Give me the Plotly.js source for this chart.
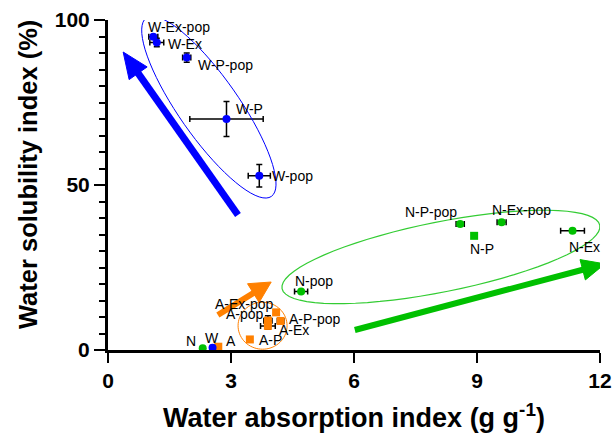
<!DOCTYPE html>
<html><head><meta charset="utf-8">
<script src="https://cdn.plot.ly/plotly-3.0.1.min.js"></script>
<style>html,body{margin:0;padding:0;background:#fff}#chart{width:615px;height:433px}</style>
</head><body><div id="chart"></div>
<script>
// ---- data ----
const wNames = ["W", "W-P", "W-Ex", "W-pop", "W-P-pop", "W-Ex-pop"];
const wWAI   = [2.55, 2.89, 1.19, 3.69, 1.92, 1.105];
const wWSI   = [0.7, 70.0, 93.2, 52.8, 88.6, 94.9];
const wWAIsd = [0.05, 0.895, 0.17, 0.27, 0.10, 0.11];
const wWSIsd = [0.3, 5.3, 1.3, 3.4, 1.4, 0.6];

const aNames = ["A", "A-P", "A-Ex", "A-pop", "A-P-pop", "A-Ex-pop"];
const aWAI   = [2.69, 3.46, 3.90, 3.90, 4.21, 4.10];
const aWSI   = [1.0, 3.2, 7.3, 8.9, 8.8, 11.4];
const aWAIsd = [0.03, 0.05, 0.18, 0.10, 0.08, 0.05];
const aWSIsd = [0.2, 0.3, 1.0, 1.5, 0.5, 0.5];

const nNames = ["N", "N-P", "N-Ex", "N-pop", "N-P-pop", "N-Ex-pop"];
const nWAI   = [2.31, 8.93, 11.33, 4.71, 8.59, 9.60];
const nWSI   = [0.5, 34.6, 36.1, 17.7, 38.2, 38.7];
const nWAIsd = [0.03, 0.05, 0.29, 0.16, 0.10, 0.11];
const nWSIsd = [0.2, 0.5, 0.5, 0.5, 0.6, 0.6];

const xTicks = [0, 3, 6, 9, 12];
const yTicks = [0, 50, 100];
const xTitle = "Water absorption index (g g<sup>-1</sup>)";
const yTitle = "Water solubility index (%)";

// ---- styling / layout helpers ----
const FONT = "Liberation Sans, Arial, sans-serif";
const BLUE = "#0000ff", ORANGE = "#ff8000", GREEN = "#00c000";
const KX = 41, KY = 3.3; // approx px per data unit (for decorative shapes)

function trace(names, x, y, ex, ey, color, symbols) {
  return {
    type: "scatter", mode: "markers", x: x, y: y, text: names,
    marker: {color: color, size: 8, symbol: symbols},
    error_x: {type: "data", array: ex, visible: true, color: "#000", thickness: 1.5, width: 3},
    error_y: {type: "data", array: ey, visible: true, color: "#000", thickness: 1.5, width: 3},
    showlegend: false, cliponaxis: false, hoverinfo: "text"
  };
}
const traces = [
  trace(aNames, aWAI, aWSI, aWAIsd, aWSIsd, ORANGE, "square"),
  trace(nNames, nWAI, nWSI, nWAIsd, nWSIsd, GREEN, ["circle","square","circle","circle","circle","circle"]),
  trace(wNames, wWAI, wWSI, wWAIsd, wWSIsd, BLUE, "circle")
];

const annotations = [];
// label placement: [xanchor, dx px, dy px (down positive)]
const labelPos = {
  "W-Ex-pop": ["left", -7, -10], "W-Ex": ["left", 9, 2], "W-P-pop": ["left", 9, 7],
  "W-P": ["left", 8, -10], "W-pop": ["left", 11, 0], "W": ["center", -1, -10],
  "N-P-pop": ["right", -1, -12], "N-Ex-pop": ["left", -12, -12], "N-P": ["center", 8, 13],
  "N-Ex": ["center", 12, 16], "N-pop": ["left", -8, -11], "N": ["right", -5, -7],
  "A-Ex-pop": ["right", 0, -8], "A-pop": ["right", -2, -7], "A-P-pop": ["left", 6, -2],
  "A-Ex": ["left", 9, 4], "A-P": ["left", 7, 1], "A": ["left", 6, -6]
};
[[wNames, wWAI, wWSI], [aNames, aWAI, aWSI], [nNames, nWAI, nWSI]].forEach(([nm, xs, ys]) => {
  nm.forEach((n, i) => {
    const p = labelPos[n];
    annotations.push({x: xs[i], y: ys[i], xref: "x", yref: "y", text: n, showarrow: false,
      xanchor: p[0], yanchor: "middle", xshift: p[1], yshift: -p[2],
      font: {family: FONT, size: 14, color: "#000"}});
  });
});
// y-axis title placed as rotated annotation
annotations.push({x: 0, y: 0.5, xref: "paper", yref: "paper", text: yTitle, showarrow: false,
  textangle: -90, xanchor: "center", yanchor: "middle", xshift: -80, yshift: 10,
  font: {family: FONT, size: 25.5, color: "#000", weight: "bold"}});

function ellipsePath(cx, cy, aPx, bPx, angDeg) {
  const t = angDeg * Math.PI / 180, pts = [];
  for (let k = 0; k <= 72; k++) {
    const u = 2 * Math.PI * k / 72;
    const px = aPx * Math.cos(u) * Math.cos(t) - bPx * Math.sin(u) * Math.sin(t);
    const py = aPx * Math.cos(u) * Math.sin(t) + bPx * Math.sin(u) * Math.cos(t);
    pts.push((k ? "L" : "M") + (cx + px / KX).toFixed(4) + "," + (cy + py / KY).toFixed(4));
  }
  return pts.join(" ") + " Z";
}
// arrow as shaft line + filled triangular head; tip/tail in data coords, head sizes in px
function arrowShapes(tipX, tipY, tailX, tailY, color, shaftW, headLen, headHalf) {
  const dxp = (tipX - tailX) * KX, dyp = (tipY - tailY) * KY;
  const len = Math.hypot(dxp, dyp), ux = dxp / len, uy = dyp / len;
  const bx = tipX - headLen * ux / KX, by = tipY - headLen * uy / KY;
  const c1x = bx - headHalf * uy / KX, c1y = by + headHalf * ux / KY;
  const c2x = bx + headHalf * uy / KX, c2y = by - headHalf * ux / KY;
  const sx = tipX - (headLen - 2) * ux / KX, sy = tipY - (headLen - 2) * uy / KY;
  return [
    {type: "line", xref: "x", yref: "y", x0: tailX, y0: tailY, x1: sx, y1: sy, line: {color: color, width: shaftW}},
    {type: "path", xref: "x", yref: "y", path: `M${tipX},${tipY} L${c1x},${c1y} L${c2x},${c2y} Z`,
      fillcolor: color, line: {color: color, width: 1}}
  ];
}
const shapes = [
  {type: "path", xref: "x", yref: "y", path: ellipsePath(2.46, 73.6, 109, 30, -55), line: {color: BLUE, width: 1}},
  {type: "path", xref: "x", yref: "y", path: ellipsePath(8.12, 28.2, 162, 35, 11.3), line: {color: "#33cc33", width: 1.2}},
  {type: "path", xref: "x", yref: "y", path: ellipsePath(3.77, 7.36, 24.5, 23.5, 0), line: {color: ORANGE, width: 1}},
  ...arrowShapes(0.37, 90.3, 3.17, 40.9, BLUE, 7, 26, 11),
  ...arrowShapes(3.98, 20.6, 2.68, 10.6, ORANGE, 6, 21, 11),
  ...arrowShapes(12.12, 26.1, 6.02, 6.06, GREEN, 6, 23, 10.5)
];

const bold = {family: FONT, size: 21, color: "#000", weight: "bold"};
const layout = {
  width: 615, height: 433,
  margin: {l: 108, r: 15, t: 20, b: 83},
  paper_bgcolor: "#fff", plot_bgcolor: "#fff",
  showlegend: false,
  xaxis: {range: [0, 12], tickvals: xTicks, ticktext: xTicks.map(String), showgrid: false, zeroline: false,
    showline: true, linecolor: "#000", linewidth: 3, ticks: "outside", ticklen: 10, tickwidth: 2.5, tickcolor: "#000",
    tickfont: bold,
    title: {text: xTitle, font: {family: FONT, size: 27, color: "#000", weight: "bold"}, standoff: 20}},
  yaxis: {range: [0, 100], tickvals: yTicks, ticktext: yTicks.map(String), showgrid: false, zeroline: false,
    showline: true, linecolor: "#000", linewidth: 3, ticks: "outside", ticklen: 11, tickwidth: 2.5, tickcolor: "#000",
    tickfont: bold,
    minor: {dtick: 5, tick0: 0, ticks: "outside", ticklen: 6, tickwidth: 2, tickcolor: "#000", showgrid: false}},
  annotations: annotations,
  shapes: shapes
};
Plotly.newPlot("chart", traces, layout, {displayModeBar: false, staticPlot: true});
</script>
</body></html>
